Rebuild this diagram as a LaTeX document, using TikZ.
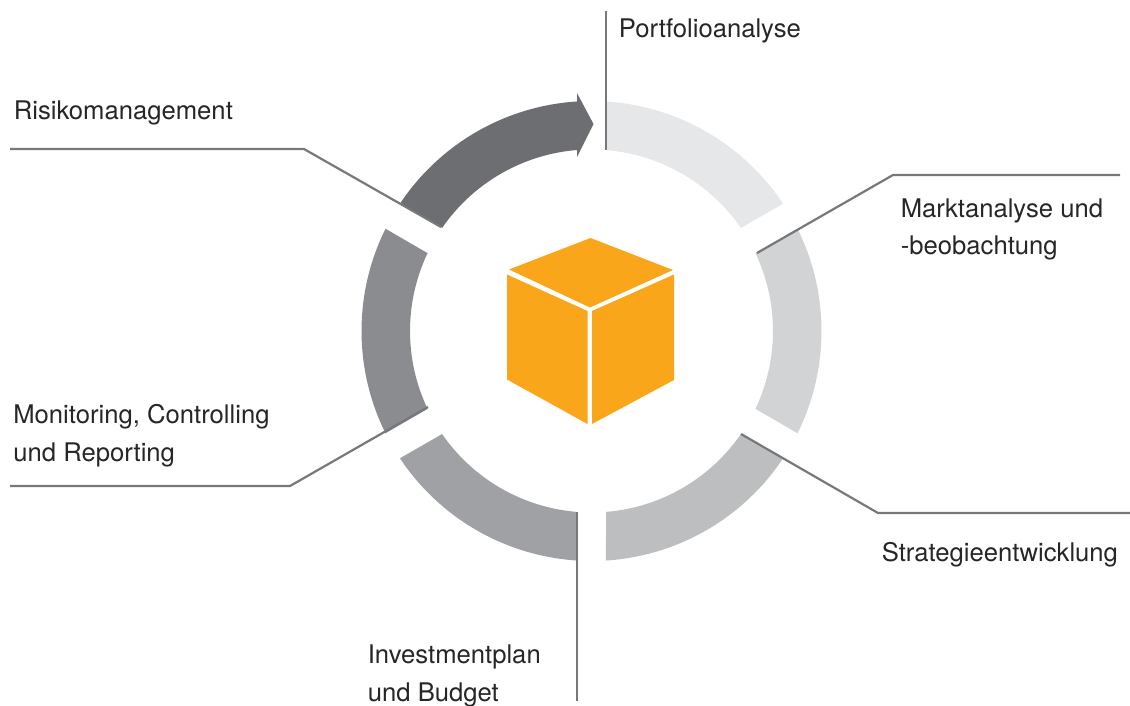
\documentclass[tikz,border=0pt]{standalone}
\usepackage{fontspec}
\setmainfont{TeX Gyre Heros}
\usepackage{tikz}
\usetikzlibrary{%
  calc,%
  positioning%
}
\definecolor{segA}{HTML}{E6E7E8}
\definecolor{segB}{HTML}{D1D3D4}
\definecolor{segC}{HTML}{BCBEC0}
\definecolor{segD}{HTML}{9FA1A4}
\definecolor{segE}{HTML}{8A8C8F}
\definecolor{segF}{HTML}{6D6E71}
\definecolor{leaderc}{HTML}{77787B}
\definecolor{cubec}{HTML}{FAA61A}

\begin{document}
\begin{tikzpicture}[
    x=.02cm, y=-.02cm,
    tag/.style={anchor=base west, inner sep=0pt, align=left, text=black!85,
      font=\fontsize{14.6}{21.4}\selectfont},
    leader/.style={draw=leaderc, line width=1.25pt},
    cubeface/.style={fill=cubec}
  ]
  \useasboundingbox (0,0) rectangle (1130,706);
  \coordinate (c) at (591.5,331);

  % draw ring segments
  \foreach \a/\col in {-90/segA,-30/segB,30/segC,90/segD,150/segE}{
    \fill[\col] ($(c)+(\a+3.6:230)$) arc[start angle=\a+3.6, end angle=\a+56.4, radius=230]
      -- ($(c)+(\a+55.4:181.5)$) arc[start angle=\a+55.4, end angle=\a+4.6, radius=181.5] -- cycle;}
  \fill[segF] ($(c)+(213.6:230)$) arc[start angle=213.6, end angle=266.4, radius=230]
    -- (577,93) -- (593.5,124) -- (577,157) -- (577,150)
    arc[start angle=265.4, end angle=214.6, radius=181.5] -- cycle;

  % draw cube
  \fill[cubeface] (590.5,238) -- (673,270) -- (590,307.5) -- (509,269.5) -- cycle;
  \fill[cubeface] (507,274.5) -- (587.5,311) -- (587.5,424) -- (507,379.5) -- cycle;
  \fill[cubeface] (674,274.5) -- (592,311) -- (592,424) -- (674,380) -- cycle;

  % draw labels
  \node[tag] at (618.5,37.5) (portfolio) {Portfolioanalyse};
  \node[tag] at (900.5,255) (markt) {Marktanalyse und\\-beobachtung};
  \node[tag] at (881.5,561.5) (strategie) {Strategieentwicklung};
  \node[tag] at (367.5,701) (invest) {Investmentplan\\und Budget};
  \node[tag] at (13,461.5) (monitoring) {Monitoring, Controlling\\und Reporting};
  \node[tag] at (13.5,120) (risiko) {Risikomanagement};

  % draw leaders
  \coordinate (p1) at (606,11);
  \coordinate (p2) at (606,150);
  \coordinate (m1) at (757,253);
  \coordinate (m2) at (893,175);
  \coordinate (m3) at (1120,175);
  \coordinate (s1) at (741,434);
  \coordinate (s2) at (878,513);
  \coordinate (s3) at (1130,513);
  \coordinate (i1) at (577,512);
  \coordinate (i2) at (577,701);
  \coordinate (o1) at (428,407);
  \coordinate (o2) at (290,486);
  \coordinate (o3) at (10,486);
  \coordinate (r1) at (441,227);
  \coordinate (r2) at (304,149);
  \coordinate (r3) at (10,149);
  \path[leader] (p1) -- (p2);
  \path[leader] (m1) -- (m2) -- (m3);
  \path[leader] (s1) -- (s2) -- (s3);
  \path[leader] (i1) -- (i2);
  \path[leader] (o1) -- (o2) -- (o3);
  \path[leader] (r1) -- (r2) -- (r3);
\end{tikzpicture}
\end{document}
